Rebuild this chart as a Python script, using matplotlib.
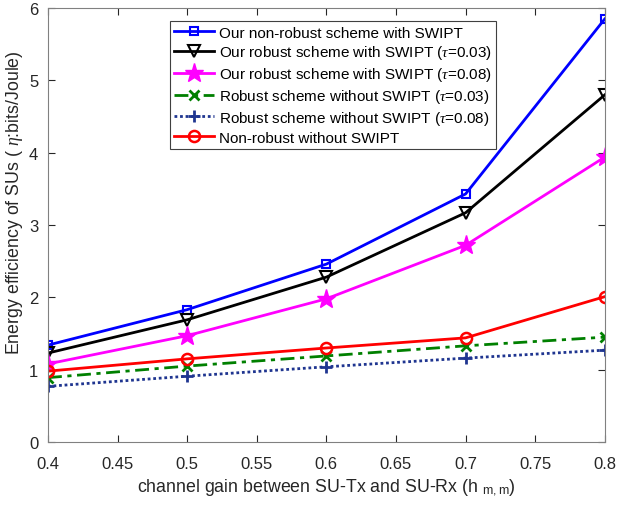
import matplotlib
matplotlib.use('Agg')
import matplotlib.pyplot as plt

plt.rcParams['font.family'] = ['Liberation Sans', 'DejaVu Sans']
plt.rcParams['mathtext.fontset'] = 'custom'
plt.rcParams['mathtext.it'] = 'Liberation Serif:italic'
plt.rcParams['mathtext.rm'] = 'Liberation Sans'

x = [0.4, 0.5, 0.6, 0.7, 0.8]
nonrobust_swipt = [1.34, 1.83, 2.46, 3.43, 5.85]
robust_swipt_003 = [1.23, 1.69, 2.28, 3.17, 4.80]
robust_swipt_008 = [1.08, 1.47, 1.98, 2.72, 3.94]
robust_noswipt_003 = [0.89, 1.05, 1.19, 1.33, 1.45]
robust_noswipt_008 = [0.77, 0.91, 1.04, 1.16, 1.27]
nonrobust_noswipt = [0.98, 1.15, 1.30, 1.44, 2.01]

labels = [
    'Our non-robust scheme with SWIPT',
    r'Our robust scheme with SWIPT ($\tau$=0.03)',
    r'Our robust scheme with SWIPT ($\tau$=0.08)',
    r'Robust scheme without SWIPT ($\tau$=0.03)',
    r'Robust scheme without SWIPT ($\tau$=0.08)',
    'Non-robust without SWIPT',
]

fig = plt.figure(figsize=(6.19, 5.06), dpi=100)
ax = fig.add_axes([0.0775, 0.1245, 0.8995, 0.8575])

ax.plot(x, nonrobust_swipt, color='#0000ff', lw=2, marker='s', ms=6, mfc='none', mew=1.5, label=labels[0])
ax.plot(x, robust_swipt_003, color='black', lw=2, marker='v', ms=9, mfc='none', mew=1.5, label=labels[1])
ax.plot(x, robust_swipt_008, color='#ff00ff', lw=2, marker='*', ms=14, label=labels[2])
ax.plot(x, robust_noswipt_003, color='#008000', lw=2, ls=(0, (5, 2, 1.5, 2)), marker='x', ms=7, mew=2, label=labels[3])
ax.plot(x, robust_noswipt_008, color='#1f3590', lw=2, ls=(0, (1, 1)), marker='+', ms=9, mew=2, label=labels[4])
ax.plot(x, nonrobust_noswipt, color='#ff0000', lw=2, marker='o', ms=8, mfc='none', mew=1.8, label=labels[5])

ax.set_xlim(0.4, 0.8)
ax.set_ylim(0, 6)
ax.set_xticks([0.4, 0.45, 0.5, 0.55, 0.6, 0.65, 0.7, 0.75, 0.8])
ax.set_xticklabels(['0.4', '0.45', '0.5', '0.55', '0.6', '0.65', '0.7', '0.75', '0.8'])
ax.set_yticks([0, 1, 2, 3, 4, 5, 6])
ax.tick_params(direction='in', top=True, right=True, labelsize=12, colors='#262626', length=5)
ax.tick_params(axis='x', pad=10)
ax.tick_params(axis='y', pad=7)
for s in ax.spines.values():
    s.set_color('#808080')

ax.set_xlabel(r'channel gain between SU-Tx and SU-Rx (h $_{\rm m,m}$)', fontsize=12.8, color='#262626', labelpad=4)
ax.set_ylabel(r'Energy efficiency of SUs ( $\eta$:bits/Joule)', fontsize=12.8, color='#262626')
ax.yaxis.set_label_coords(-0.042, 0.555)

leg = ax.legend(loc='upper left', bbox_to_anchor=(0.205, 0.988), fontsize=11, fancybox=False,
                edgecolor='#404040', framealpha=1, handlelength=2.6, borderpad=0.3,
                labelspacing=0.25, handletextpad=0.3)
leg.get_frame().set_linewidth(0.8)

plt.savefig('out.png', dpi=100)
